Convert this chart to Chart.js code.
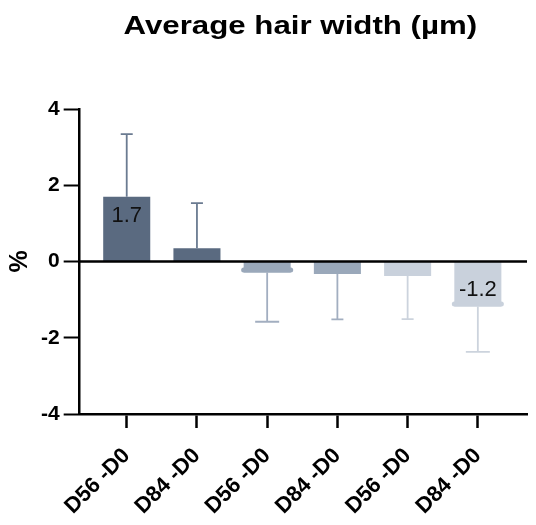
<!DOCTYPE html>
<html><head><meta charset="utf-8">
<script src="https://cdn.jsdelivr.net/npm/chart.js@4/dist/chart.umd.min.js"></script>
<style>html,body{margin:0;padding:0;background:#fff}canvas{display:block}</style>
</head><body><canvas id="c" width="536" height="525"></canvas>
<script>
const TITLE = 'Average hair width (µm)';
const Y_TITLE = '%';
const CATEGORIES = ['D56 -D0', 'D84 -D0', 'D56 -D0', 'D84 -D0', 'D56 -D0', 'D84 -D0'];
const VALUES = [1.70, 0.35, -0.29, -0.33, -0.38, -1.18];
const ERRORS = [1.64, 1.18, 1.29, 1.19, 1.13, 1.19];
const SHOW_VALUE = [true, false, false, false, false, true];
const Y_TICKS = [-4, -2, 0, 2, 4];

// styles
const FONT = '"Liberation Sans", Arial, Helvetica, sans-serif';
const BAR_COLORS = ['#5a6a80', '#5a6a80', '#9aa8ba', '#9aa8ba', '#c9d1dc', '#c9d1dc'];
const ERR_COLORS = ['#6b7b91', '#6b7b91', '#a2aec0', '#a2aec0', '#ccd3dd', '#ccd3dd'];
const ERR_CAP = [12, 12, 24, 12, 12, 24];
const END_CAP = [false, false, true, false, false, true];
const TITLE_STRETCH = 1.25;
const TITLE_SHIFT = -3;

const stretchTitle = {
  id: 'stretchTitle',
  afterInit(chart) {
    const box = chart.titleBlock;
    if (!box) return;
    const orig = box.draw.bind(box);
    box.draw = function (area) {
      const ctx = chart.ctx, ca = chart.chartArea;
      const cx = (box.left + box.right) / 2;
      const target = (ca.left + ca.right) / 2 + TITLE_SHIFT;
      ctx.save();
      ctx.translate(target, 0);
      ctx.scale(TITLE_STRETCH, 1);
      ctx.translate(-cx, 0);
      orig(area);
      ctx.restore();
    };
  }
};

const errorBars = {
  id: 'errorBars',
  afterDatasetsDraw(chart) {
    const ctx = chart.ctx;
    const ys = chart.scales.y;
    const ca = chart.chartArea;
    const meta = chart.getDatasetMeta(0);
    meta.data.forEach((bar, i) => {
      const v = VALUES[i], e = ERRORS[i];
      const end = v >= 0 ? v + e : v - e;
      const y0 = ys.getPixelForValue(v), y1 = ys.getPixelForValue(end);
      ctx.save();
      ctx.strokeStyle = ERR_COLORS[i];
      ctx.lineWidth = 1.8;
      ctx.beginPath();
      ctx.moveTo(bar.x, y0); ctx.lineTo(bar.x, y1);
      ctx.moveTo(bar.x - ERR_CAP[i] / 2, y1); ctx.lineTo(bar.x + ERR_CAP[i] / 2, y1);
      ctx.stroke();
      if (END_CAP[i]) {
        const dir = v >= 0 ? 1 : -1;
        const yc = y0 + dir * 2.5;
        ctx.strokeStyle = BAR_COLORS[i];
        ctx.lineWidth = 5;
        ctx.lineCap = 'round';
        ctx.beginPath();
        ctx.moveTo(bar.x - bar.width / 2, yc); ctx.lineTo(bar.x + bar.width / 2, yc);
        ctx.stroke();
      }
      if (SHOW_VALUE[i]) {
        ctx.fillStyle = '#111';
        ctx.font = '22px ' + FONT;
        ctx.textAlign = 'center';
        ctx.textBaseline = 'middle';
        ctx.fillText(v.toFixed(1), bar.x, y0 + (v >= 0 ? 19 : -17));
      }
      ctx.restore();
    });
    // zero line on top of the bars
    const yz = ys.getPixelForValue(0);
    ctx.save();
    ctx.strokeStyle = '#000';
    ctx.lineWidth = 2.5;
    ctx.beginPath();
    ctx.moveTo(ca.left, yz); ctx.lineTo(ca.right, yz);
    ctx.stroke();
    ctx.restore();
  }
};

new Chart(document.getElementById('c'), {
  type: 'bar',
  data: {
    datasets: [{
      data: VALUES.map((v, i) => ({ x: i, y: v })),
      backgroundColor: BAR_COLORS,
      borderWidth: 0,
      barPercentage: 0.67,
      categoryPercentage: 1.0
    }]
  },
  options: {
    responsive: false,
    animation: false,
    devicePixelRatio: 1,
    layout: { padding: { left: 8, right: 9, top: 0, bottom: 0 } },
    plugins: {
      legend: { display: false },
      tooltip: { enabled: false },
      title: {
        display: true, text: TITLE, color: '#000',
        font: { family: FONT, size: 25, weight: 'bold' },
        padding: { top: 12, bottom: 67 }
      }
    },
    scales: {
      x: {
        type: 'linear', min: -0.67, max: 5.7, offset: false,
        afterBuildTicks: s => { s.ticks = CATEGORIES.map((_, i) => ({ value: i })); },
        afterFit: s => { s.height = 111; },
        ticks: {
          callback: v => CATEGORIES[v], autoSkip: false,
          minRotation: 45, maxRotation: 45, color: '#000', padding: 15,
          font: { family: FONT, size: 22, weight: 'bold' }
        },
        grid: { offset: false, drawOnChartArea: false, tickLength: 14, tickWidth: 2.5, tickColor: '#000' },
        border: { color: '#000', width: 2.5 }
      },
      y: {
        min: -4, max: 4,
        afterBuildTicks: s => { s.ticks = Y_TICKS.map(v => ({ value: v })); },
        ticks: { color: '#000', padding: 4, font: { family: FONT, size: 21, weight: 'bold' } },
        grid: {
          drawOnChartArea: false,
          tickColor: '#000', tickLength: 16, tickWidth: 2
        },
        border: { color: '#000', width: 2.5 },
        title: {
          display: true, text: Y_TITLE, color: '#000',
          font: { family: FONT, size: 25, weight: 'bold', lineHeight: 1 },
          padding: { top: 0, bottom: 4 }
        }
      }
    }
  },
  plugins: [stretchTitle, errorBars]
});
</script>
</body></html>
